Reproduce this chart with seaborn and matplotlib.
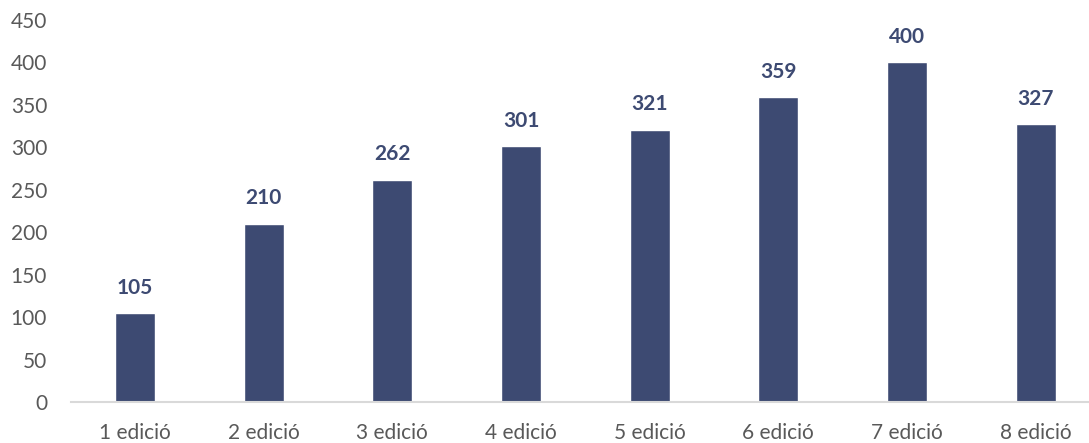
import matplotlib
matplotlib.use("Agg")
import matplotlib.pyplot as plt
import seaborn as sns
import pandas as pd

categories = ["1 edició", "2 edició", "3 edició", "4 edició",
              "5 edició", "6 edició", "7 edició", "8 edició"]
values = [105, 210, 262, 301, 321, 359, 400, 327]
y_ticks = [0, 50, 100, 150, 200, 250, 300, 350, 400, 450]

bar_color = "#3D4A72"
text_color = "#595959"

sns.set_theme(style="white")
plt.rcParams['font.family'] = ['Lato', 'DejaVu Sans']

df = pd.DataFrame({"cat": categories, "val": values})

fig = plt.figure(figsize=(10.89, 4.43), dpi=100)
ax = fig.add_axes([70.7 / 1089, (443 - 402) / 443, (1100 - 70.7) / 1089, (402 - 20) / 443])

sns.barplot(data=df, x="cat", y="val", color=bar_color, width=0.31,
            saturation=1, ax=ax)

ax.set_ylim(0, 450)
ax.set_yticks(y_ticks)
ax.set_xlim(-0.5, len(categories) - 0.5)
ax.set_xlabel("")
ax.set_ylabel("")

for s in ["top", "right", "left"]:
    ax.spines[s].set_visible(False)
ax.spines["bottom"].set_color("#D9D9D9")
ax.spines["bottom"].set_linewidth(1.5)

ax.tick_params(axis="y", length=0, pad=17, labelsize=15, labelcolor=text_color)
ax.tick_params(axis="x", length=0, pad=15, labelsize=15, labelcolor=text_color)

for c in ax.containers:
    ax.bar_label(c, labels=[str(v) for v in values], padding=11,
                 fontsize=15, fontweight="bold", color=bar_color)

fig.savefig("out.png", dpi=100)
